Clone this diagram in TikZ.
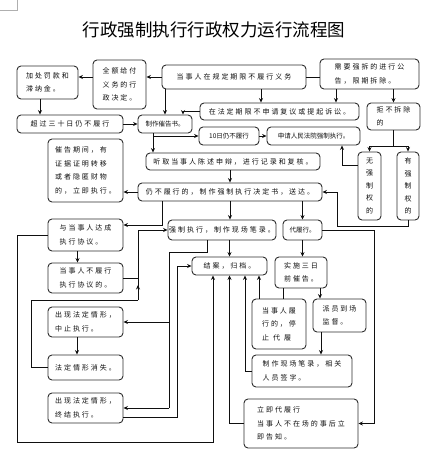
\documentclass[tikz,border=0pt]{standalone}
\usepackage{fontspec}
\setmainfont{Noto Sans CJK SC}
\newfontfamily\boxfamily[LetterSpace=28]{Noto Sans CJK SC}
\usepackage{tikz}
\usetikzlibrary{
arrows.meta,
calc
}
\definecolor{flowframe}{RGB}{45,45,45}
\definecolor{flowline}{RGB}{15,15,15}
\definecolor{pagemark}{RGB}{175,175,175}

\tikzset{
  flowbox/.style={draw=flowframe, line width=0.9pt, rounded corners=4pt,
    align=left, inner sep=0pt, font=\boxfamily\fontsize{7}{13.5}\selectfont},
  tightbox/.style={flowbox, font=\fontsize{6.5}{12}\selectfont},
  vertbox/.style={flowbox, align=center, font=\boxfamily\fontsize{7}{12.5}\selectfont}
}

\begin{document}
\begin{tikzpicture}[x=1pt, y=-1pt, >={Stealth[length=4.5pt,width=4pt]},
  line width=0.7pt, flowline]

\useasboundingbox (0,0) rectangle (431,458);

%% page corner mark
\draw[pagemark, line width=0.6pt] (0,10) -- (17,10) -- (17,0);

%% Title
\node[font=\fontsize{17.5}{20}\selectfont, black] (title) at (214,30)
  {行政强制执行行政权力运行流程图};

%% Top row
\node[flowbox, minimum width=61pt, minimum height=33pt] (jiachu) at (47.5,82.5)
  {加处罚款和\\滞纳金。};
\node[flowbox, minimum width=53pt, minimum height=49pt] (geifu) at (119.5,84.5)
  {全额给付\\义务的行\\政决定。};
\node[flowbox, minimum width=144pt, minimum height=24pt] (weilvxing) at (234,77)
  {当事人在规定期限不履行义务};
\node[flowbox, minimum width=99pt, minimum height=30pt] (qiangchai) at (369.5,74)
  {需要强拆的进行公\\告，限期拆除。};

%% Second row
\node[flowbox, minimum width=159pt, minimum height=17pt] (fuyi) at (279.5,111.5)
  {在法定期限不申请复议或提起诉讼。};
\node[flowbox, minimum width=53pt, minimum height=27pt] (jubu) at (393.5,116.5)
  {拒不拆除\\的};
\node[flowbox, minimum width=106pt, minimum height=18pt] (sanshi) at (70,124)
  {超过三十日仍不履行};
\node[tightbox, minimum width=54pt, minimum height=18pt] (cuigao) at (165,124)
  {制作催告书。};
\node[tightbox, minimum width=60pt, minimum height=18pt] (shiri) at (229,136)
  {10日仍不履行};
\node[tightbox, minimum width=93pt, minimum height=18pt] (fayuan) at (313.5,136)
  {申请人民法院强制执行。};

%% Middle
\node[flowbox, minimum width=174pt, minimum height=17pt] (chenshu) at (233,161.5)
  {听取当事人陈述申辩，进行记录和复核。};
\node[flowbox, minimum width=75pt, minimum height=63pt] (liji) at (85.5,170.5)
  {催告期间，有\\证据证明转移\\或者隐匿财物\\的，立即执行。};
\node[flowbox, minimum width=184pt, minimum height=18pt] (juedingshu) at (230,192)
  {仍不履行的，制作强制执行决定书，送达。};
\node[vertbox, minimum width=23pt, minimum height=68pt] (wuquan) at (369.5,186)
  {无\\强\\制\\权\\的};
\node[vertbox, minimum width=22pt, minimum height=68pt] (youquan) at (408,186)
  {有\\强\\制\\权\\的};

%% Execution
\node[flowbox, minimum width=75pt, minimum height=32pt] (xieyi) at (85.5,235)
  {与当事人达成\\执行协议。};
\node[flowbox, minimum width=108pt, minimum height=20pt] (qiangzhi) at (222,230)
  {强制执行，制作现场笔录。};
\node[tightbox, minimum width=39pt, minimum height=20pt] (dailvxing) at (302.5,230)
  {代履行。};
\node[flowbox, minimum width=75pt, minimum height=30pt] (buxieyi) at (85.5,278)
  {当事人不履行\\执行协议的。};
\node[flowbox, minimum width=75pt, minimum height=18pt] (jiean) at (229.5,266)
  {结案，归档。};
\node[flowbox, minimum width=52pt, minimum height=31pt] (sanri) at (301,272.5)
  {实施三日\\前催告。};
\node[flowbox, minimum width=54pt, minimum height=50pt] (tingzhi) at (279,324)
  {当事人履\\行的，停\\止\hspace{4pt}代\hspace{4pt}履};
\node[flowbox, minimum width=53pt, minimum height=33pt] (jiandu) at (339.5,315.5)
  {派员到场\\监督。};
\node[flowbox, minimum width=100pt, minimum height=32pt] (bilu) at (302,371)
  {制作现场笔录，相关\\人员签字。};
\node[flowbox, minimum width=114pt, minimum height=49pt] (lijidai) at (301,423.5)
  {立即代履行\\当事人不在场的事后立\\即告知。};
\node[flowbox, minimum width=75pt, minimum height=30pt] (zhongzhi) at (85.5,322)
  {出现法定情形，\\中止执行。};
\node[flowbox, minimum width=75pt, minimum height=25pt] (xiaoshi) at (85.5,367.5)
  {法定情形消失。};
\node[flowbox, minimum width=75pt, minimum height=30pt] (zhongjie) at (85.5,408)
  {出现法定情形，\\终结执行。};

%% Connectors, top part
\draw[->] (weilvxing.west) -- (weilvxing.west -| geifu.east);
\draw[->] (geifu.west |- weilvxing.west) -- (jiachu.east |- weilvxing.west);
\draw[->] ([xshift=-7.5pt]jiachu.south) -- ([xshift=-7.5pt]jiachu.south |- sanshi.north);
\draw[->] (sanshi.east) -- (cuigao.west);
\draw[->] (cuigao.north |- weilvxing.south) -- (cuigao.north);
\draw (weilvxing.east) -- (weilvxing.east -| qiangchai.west);
\draw[->] ([xshift=27pt]weilvxing.south) -- ([xshift=27pt]weilvxing.south |- fuyi.north);
\draw[->] ([xshift=-33.5pt]qiangchai.south) -- ([xshift=-33.5pt]qiangchai.south |- fuyi.north);
\draw[->] (jubu.north |- qiangchai.south) -- (jubu.north);
\draw[->] (fuyi.west) -| ([xshift=18pt]cuigao.north);
\draw[->] ([xshift=-12pt]cuigao.south) -- ([xshift=-12pt]cuigao.south |- chenshu.north);
\draw[->] ([xshift=-12pt]cuigao.south |- shiri.west) -- (shiri.west);
\draw[->] (shiri.east) -- (fayuan.west);
\draw[->] ([yshift=21pt]wuquan.west) -| ([xshift=28.5pt]fayuan.south);

%% fork to the two boxes on the right
\coordinate (fork) at (393.5,146);
\draw (jubu.south) -- (fork);
\draw[->] (fork) -| (wuquan.north);
\draw[->] (fork) -| (youquan.north);
\coordinate (songda) at (337,226);
\draw[->] (youquan.south) |- (songda) |- (juedingshu.east);

%% decision
\draw[->] (juedingshu.north |- chenshu.south) -- (juedingshu.north);
\draw[->] (juedingshu.west) -- (juedingshu.west -| liji.east);
\draw[->] ([xshift=-68pt]juedingshu.south) |- ([yshift=10pt]xieyi.east);
\draw[->] (juedingshu.south) -- (juedingshu.south |- qiangzhi.north);
\draw[->] (dailvxing.north |- juedingshu.south) -- (dailvxing.north);
\draw[->] ([xshift=-8pt]xieyi.south) -- ([xshift=-8pt]xieyi.south |- buxieyi.north);

%% resumption loop
\coordinate (huifu) at (138,300);
\draw (buxieyi.east) -- (buxieyi.east -| huifu);
\draw (xiaoshi.west) -- ++(-16,0) |- (huifu);
\draw[->] (huifu) |- (qiangzhi.west);
\draw[->] (huifu) -- ++(0,-15);

%% suspension and termination
\coordinate (zhongduan) at (169,252);
\draw ([xshift=-15pt]qiangzhi.south) |- (zhongduan) -- (zhongduan |- zhongjie.east);
\draw[->] (zhongduan |- zhongzhi.east) -- (zhongzhi.east);
\draw[->] (zhongduan |- zhongjie.east) -- (zhongjie.east);
\draw[->] ([xshift=-8.5pt]zhongzhi.south) -- ([xshift=-8.5pt]zhongzhi.south |- xiaoshi.north);
\draw[->] ([yshift=-9pt]zhongjie.east) -- ++(54,0) |- (jiean.west);
\draw[->] (qiangzhi.south -| jiean.north) -- (jiean.north);

%% agreement fulfilled
\coordinate (luxing) at (17,442);
\draw[->] (xieyi.west) -| (luxing) -| ([xshift=-16.5pt]jiean.south);

%% substitute performance
\draw[->] (dailvxing.south) -- (dailvxing.south |- sanri.north);
\draw ([xshift=-18pt]sanri.south) -- ([xshift=-18pt]sanri.south |- tingzhi.north);
\draw[->] ([xshift=19pt]sanri.south) -- ([xshift=19pt]sanri.south |- jiandu.north);
\draw[->] ([xshift=-18.5pt]jiandu.south) -- ([xshift=-18.5pt]jiandu.south |- bilu.north);
\draw[->] ([xshift=-20pt]tingzhi.north) -- ([xshift=-20pt]tingzhi.north |- jiean.south);
\draw[->] (bilu.west) -| ([xshift=15.5pt]jiean.south);
\draw[->] (lijidai.west) -| (jiean.south);
\draw[->] (dailvxing.east) -- ++(52,0) |- (lijidai.east);

\end{tikzpicture}
\end{document}
